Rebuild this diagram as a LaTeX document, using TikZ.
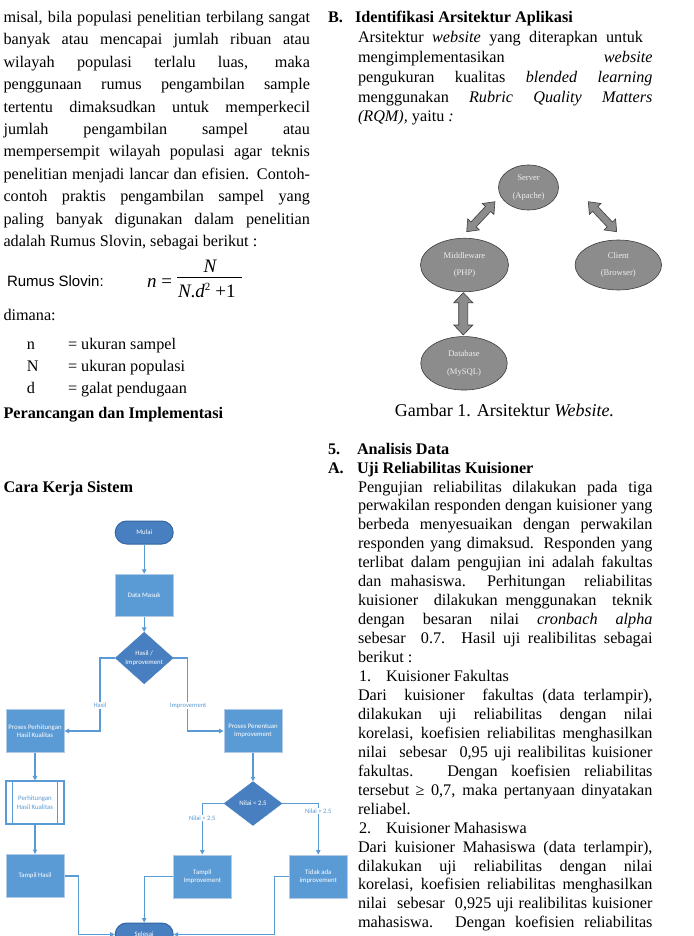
\documentclass[tikz,border=0pt]{standalone}
\usepackage{fontspec}
\setmainfont{Liberation Serif}
\newfontfamily\carlito{Carlito}
\newfontfamily\arialf{Liberation Sans}
\usetikzlibrary{shapes.geometric,arrows.meta,calc}
\definecolor{fcblue}{RGB}{91,155,213}
\definecolor{fcedge}{RGB}{178,202,230}
\definecolor{fcdark}{RGB}{72,127,192}
\definecolor{fcdarkedge}{RGB}{52,102,162}
\definecolor{archfill}{RGB}{140,140,140}
\definecolor{archedge}{RGB}{60,60,60}
\definecolor{archtext}{RGB}{238,238,238}
\newcounter{tl}
\newcommand{\JL}[4]{\stepcounter{tl}\node[txt] (t\arabic{tl}) at (#1,#2) {\makebox[#3pt][s]{#4}};}
\newcommand{\LL}[3]{\stepcounter{tl}\node[txt] (t\arabic{tl}) at (#1,#2) {#3};}
\newcommand{\HL}[3]{\stepcounter{tl}\node[hd] (t\arabic{tl}) at (#1,#2) {#3};}
\newcommand{\dblarr}[7]{% name, x, y, angle, length, shaft half, head half
  \coordinate (#1) at (#2,#3);
  \begin{scope}[shift={(#1)},rotate=#4]
    \path[darr] (0,0) -- (10,#7) -- (10,#6) -- ({#5-10},#6) -- ({#5-10},#7) -- (#5,0)
      -- ({#5-10},-#7) -- ({#5-10},-#6) -- (10,-#6) -- (10,-#7) -- cycle;
  \end{scope}}
\tikzset{
  txt/.style={anchor=base west, inner sep=0pt, outer sep=0pt, font=\fontsize{16.2}{19}\selectfont},
  hd/.style={txt, font=\fontsize{16.2}{19}\selectfont\bfseries},
  proc/.style={rectangle, fill=fcblue, draw=fcedge, line width=1pt, minimum width=58pt, minimum height=43pt,
    inner sep=1pt, align=center, text=white, font=\carlito\fontsize{6.8}{8.4}\selectfont},
  term/.style={proc, rounded corners=11.5pt, fill=fcdark, draw=fcdarkedge, minimum height=23pt},
  dec/.style={diamond, fill=fcdark, draw=fcdark, minimum width=58pt, minimum height=44pt, inner sep=0pt,
    align=center, text=white, font=\carlito\fontsize{6.8}{8.4}\selectfont},
  pre/.style={proc, fill=white, draw=fcblue, line width=1.1pt, text=fcblue},
  conn/.style={draw=fcblue, line width=1.2pt, -{Triangle[length=4.5pt,width=4.5pt]}},
  clbl/.style={fill=white, inner sep=0.8pt, text=fcblue, font=\carlito\fontsize{6.6}{8}\selectfont},
  ell/.style={ellipse, fill=archfill, draw=archedge, line width=0.6pt, inner sep=0pt, align=center,
    text=archtext, font=\fontsize{8.6}{17.5}\selectfont},
  darr/.style={fill=archfill, draw=archedge, line width=0.6pt}
}
\begin{document}
\begin{tikzpicture}[x=1pt,y=-1pt]
\useasboundingbox[fill=white] (0,0) rectangle (693,936);

% ---------------- left column text ----------------
\JL{3.5}{22.5}{306.5}{misal, bila populasi penelitian terbilang sangat}
\JL{3.5}{44.9}{306.5}{banyak atau mencapai jumlah ribuan atau}
\JL{3.5}{67.3}{306.5}{wilayah populasi terlalu luas, maka}
\JL{3.5}{89.7}{306.5}{penggunaan rumus pengambilan sample}
\JL{3.5}{112.1}{306.5}{tertentu dimaksudkan untuk memperkecil}
\JL{3.5}{134.5}{306.5}{jumlah pengambilan sampel atau}
\JL{3.5}{156.9}{306.5}{mempersempit wilayah populasi agar teknis}
\JL{3.5}{179.3}{306.5}{penelitian menjadi lancar dan efisien. Contoh-}
\JL{3.5}{201.7}{306.5}{contoh praktis pengambilan sampel yang}
\JL{3.5}{224.1}{306.5}{paling banyak digunakan dalam penelitian}
\LL{3.5}{246.5}{adalah Rumus Slovin, sebagai berikut :}

% formula
\node[txt, font=\arialf\fontsize{15}{18}\selectfont] (rs) at (7,286) {Rumus Slovin:};
\node[txt, font=\fontsize{19}{22}\selectfont] (fn) at (147,287) {\textit{n} =};
\node[anchor=base, inner sep=0pt, font=\fontsize{19}{22}\selectfont] (fnum) at (210.5,272) {\textit{N}};
\node[txt, font=\fontsize{19}{22}\selectfont] (fden) at (178,297) {\textit{N}.\textit{d}\raisebox{7pt}{\fontsize{11}{12}\selectfont 2}\hspace{5pt}+1};
\draw[line width=0.7pt] (177,277.5) -- (242,277.5);

\LL{3.5}{320}{dimana:}
\LL{27}{349}{n}
\LL{68}{349}{= ukuran sampel}
\LL{27}{371}{N}
\LL{68}{371}{= ukuran populasi}
\LL{27}{393}{d}
\LL{68}{393}{= galat pendugaan}
\HL{3.5}{418}{Perancangan dan Implementasi}
\HL{3.5}{492}{Cara Kerja Sistem}

% ---------------- right column text ----------------
\HL{328}{23}{B.}
\HL{355}{23}{Identifikasi Arsitektur Aplikasi}
\JL{358}{43}{285}{Arsitektur \textit{website} yang diterapkan untuk}
\JL{358}{63}{294.5}{mengimplementasikan \textit{website}}
\JL{358}{83}{294.5}{pengukuran kualitas \textit{blended learning}}
\JL{358}{102.5}{294.5}{menggunakan \textit{Rubric Quality Matters}}
\LL{358}{122}{\textit{(RQM),} yaitu \textit{:}}

\node[anchor=base, inner sep=0pt, font=\fontsize{18}{21}\selectfont] (cap) at (504.5,416) {Gambar 1. Arsitektur \textit{Website.}};

\HL{328}{454}{5.}
\HL{357}{454}{Analisis Data}
\HL{328}{473}{A.}
\HL{357}{473}{Uji Reliabilitas Kuisioner}
\JL{358}{492}{294.5}{Pengujian reliabilitas dilakukan pada tiga}
\JL{358}{510.95}{294.5}{perwakilan responden dengan kuisioner yang}
\JL{358}{529.9}{294.5}{berbeda menyesuaikan dengan perwakilan}
\JL{358}{548.85}{294.5}{responden yang dimaksud. Responden yang}
\JL{358}{567.8}{294.5}{terlibat dalam pengujian ini adalah fakultas}
\JL{358}{586.75}{294.5}{dan mahasiswa. Perhitungan \ reliabilitas}
\JL{358}{605.7}{294.5}{kuisioner \ dilakukan menggunakan \ teknik}
\JL{358}{624.65}{294.5}{dengan besaran nilai \textit{cronbach alpha}}
\JL{358}{643.6}{294.5}{sebesar \ 0.7. Hasil uji realibilitas sebagai}
\LL{358}{662.55}{berikut :}
\LL{359}{681.5}{1.}
\LL{386}{681.5}{Kuisioner Fakultas}
\JL{358}{700.45}{294.5}{Dari \ kuisioner \ fakultas (data terlampir),}
\JL{358}{719.4}{294.5}{dilakukan uji reliabilitas dengan nilai}
\JL{358}{738.35}{294.5}{korelasi, koefisien reliabilitas menghasilkan}
\JL{358}{757.3}{294.5}{nilai \ sebesar \ 0,95 uji realibilitas kuisioner}
\JL{358}{776.25}{294.5}{fakultas. Dengan koefisien reliabilitas}
\JL{358}{795.2}{294.5}{tersebut ≥ 0,7, maka pertanyaan dinyatakan}
\LL{358}{814.15}{reliabel.}
\LL{359}{833.1}{2.}
\LL{386}{833.1}{Kuisioner Mahasiswa}
\JL{358}{852.05}{294.5}{Dari kuisioner Mahasiswa (data terlampir),}
\JL{358}{871}{294.5}{dilakukan uji reliabilitas dengan nilai}
\JL{358}{889.95}{294.5}{korelasi, koefisien reliabilitas menghasilkan}
\JL{358}{908.9}{294.5}{nilai \ sebesar \ 0,925 uji realibilitas kuisioner}
\JL{358}{927.85}{294.5}{mahasiswa. Dengan koefisien reliabilitas}

% ---------------- architecture diagram ----------------
\node[ell, minimum width=60pt, minimum height=45pt] (server) at (528.5,187.5) {Server\\(Apache)};
\node[ell, minimum width=88pt, minimum height=53.5pt] (mid) at (464.5,265) {Middleware\\(PHP)};
\node[ell, minimum width=86.5pt, minimum height=50pt] (client) at (618.3,265) {Client\\(Browser)};
\node[ell, minimum width=86.5pt, minimum height=53.5pt] (db) at (464,363.3) {Database\\(MySQL)};
\dblarr{a1}{466.7}{231.7}{46.7}{41.2}{3.6}{8}
\dblarr{a2}{588.3}{201.7}{-46.6}{41.3}{3.6}{8}
\dblarr{a3}{463.3}{292.7}{-90}{42.3}{4.6}{9.5}

% ---------------- flowchart ----------------
\node[term] (mulai) at (144.2,532.5) {Mulai};
\node[proc, minimum height=42.5pt] (data) at (144.2,595.5) {Data Masuk};
\node[dec] (dec1) at (144.2,658) {Hasil /\\Improvement};
\node[proc] (pph) at (35,731) {Proses Perhitungan\\Hasil Kualitas};
\node[pre] (phk) at (35,802.5) {Perhitungan\\Hasil Kualitas};
\node[proc] (tph) at (35,876) {Tampil Hasil};
\node[proc] (ppi) at (253,731) {Proses Penentuan\\Improvement};
\node[dec] (dec2) at (253,803.5) {Nilai < 2.5};
\node[proc] (ti) at (202.3,876.5) {Tampil\\Improvement};
\node[proc] (tai) at (318.3,876.5) {Tidak ada\\improvement};
\node[term] (selesai) at (144.2,934.5) {Selesai};
\draw[fcblue, line width=1.1pt] ([xshift=7pt]phk.north west) -- ([xshift=7pt]phk.south west);
\draw[fcblue, line width=1.1pt] ([xshift=-7pt]phk.north east) -- ([xshift=-7pt]phk.south east);

\draw[conn] (mulai) -- (data);
\draw[conn] (data) -- (dec1);
\draw[conn] (dec1.west) -- ++(-15,0) |- (pph.east);
\draw[conn] (dec1.east) -- ++(14,0) |- (ppi.west);
\draw[conn] (pph) -- (phk);
\draw[conn] (phk) -- (tph);
\draw[conn] (ppi) -- (dec2);
\draw[conn] (dec2.west) -| (ti.north);
\draw[conn] (dec2.east) -| (tai.north);
\draw[conn] (tph.east) -- ++(14.3,0) |- (selesai.west);
\draw[conn] (ti.west) -| (selesai.north);
\draw[conn] (tai.west) -- ++(-14.3,0) |- (selesai.east);
\node[clbl] (lhasil) at (100,705.5) {Hasil};
\node[clbl] (limp) at (188.2,705.5) {Improvement};
\node[clbl] (lkurang) at (202.3,818.3) {Nilai < 2.5};
\node[clbl] (llebih) at (318.3,811.3) {Nilai > 2.5};
\end{tikzpicture}
\end{document}
